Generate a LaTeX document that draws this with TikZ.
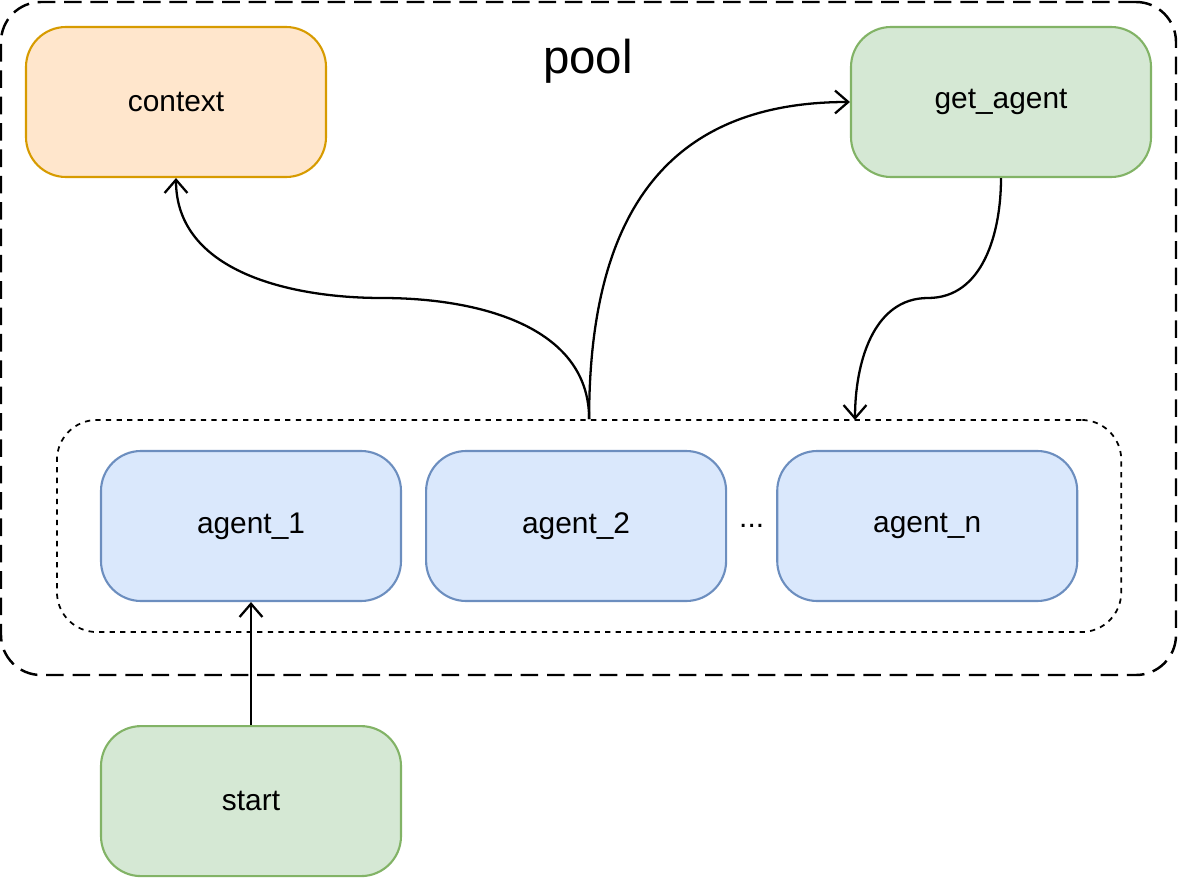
\documentclass[tikz,border=0pt]{standalone}
\usepackage{fontspec}
\setmainfont{Liberation Sans}
\usepackage{xcolor}
\usepackage{tikz}
\usetikzlibrary{arrows.meta, positioning, fit, calc}
\definecolor{ctxfill}{HTML}{FFE6CC}
\definecolor{ctxdraw}{HTML}{D79B00}
\definecolor{grnfill}{HTML}{D5E8D4}
\definecolor{grndraw}{HTML}{82B366}
\definecolor{blufill}{HTML}{DAE8FC}
\definecolor{bludraw}{HTML}{6C8EBF}
\tikzstyle{arrow} = [line width=1.3pt,->,>={Straight Barb[length=7.5pt,width=13pt,line width=1.3pt]}]
\tikzstyle{block} = [rectangle, rounded corners=0.8cm, minimum width=6cm, minimum height=3cm, text centered, line width=1.2pt, font=\fontsize{17}{20}\selectfont]
\tikzstyle{agent} = [block, draw=bludraw, fill=blufill]
\tikzstyle{group} = [rectangle, rounded corners=0.8cm, draw=black, line width=1pt, dash pattern=on 3pt off 3pt]

\begin{document}
\begin{tikzpicture}[node distance=1.5cm and 2cm]
        \useasboundingbox (0,0) rectangle (23.56,-17.56);

        % Outer pool
        \node (pool) [rectangle, rounded corners=0.8cm, draw=black, line width=1.4pt, dash pattern=on 10pt off 5pt, minimum width=23.5cm, minimum height=13.46cm] at (11.77,-6.77) {};
        \node (title) [font=\fontsize{27}{32}\selectfont] at (11.76,-1.22) {pool};

        % Nodes
        \node (context) [block, draw=ctxdraw, fill=ctxfill] at (3.52,-2.04) {context};
        \node (getagent) [block, draw=grndraw, fill=grnfill] at (20.02,-2.04) {get\_agent};

        \node (agent1) [agent] at (5.02,-10.52) {agent\_1};
        \node (agent2) [agent, right=0.46cm of agent1] {agent\_2};
        \node (agentn) [agent, right=0.98cm of agent2] {agent\_n};
        \node (dots) [font=\fontsize{17}{20}\selectfont] at ($(agent2.east)!0.5!(agentn.west)$) {...};

        \node (start) [block, draw=grndraw, fill=grnfill, below=2.46cm of agent1] {start};

        % Agent group
        \node (agents) [group, fit=(agent1)(agentn), inner xsep=0.86cm, inner ysep=0.6cm] {};

        % Bends
        \coordinate (ctxmid) at (7.64,-5.96);
        \coordinate (getmid) at (18.56,-5.96);
        \coordinate (drop) at (17.1,-8.4);

        % Arrows
        \draw [arrow] (start) -- (agent1);
        \draw [arrow] (agents.north) to[out=90,in=0] (ctxmid) to[out=180,in=-90] (context.south);
        \draw [arrow] (agents.north) to[out=90,in=180,looseness=1.2] (getagent.west);
        \draw [arrow] (getagent.south) to[out=-90,in=0] (getmid) to[out=180,in=90] (drop);
    \end{tikzpicture}
\end{document}
